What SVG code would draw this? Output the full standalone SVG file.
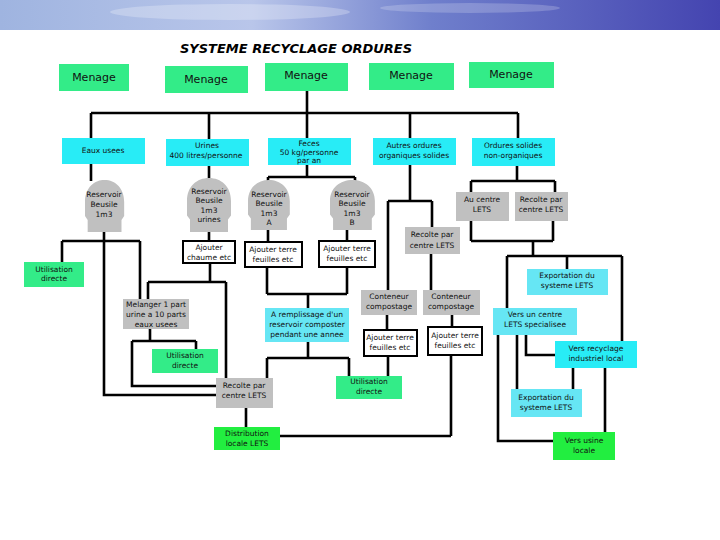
<svg xmlns="http://www.w3.org/2000/svg" xmlns:xlink="http://www.w3.org/1999/xlink" width="720" height="540" viewBox="0 0 720 540">
<defs>
<linearGradient id="hdr" x1="0" y1="0" x2="1" y2="0">
<stop offset="0" stop-color="#9fb4e0"/>
<stop offset="0.35" stop-color="#b9c6ea"/>
<stop offset="0.6" stop-color="#6f7fcc"/>
<stop offset="1" stop-color="#4444b0"/>
</linearGradient>
<path id="head" d="M3,52 L3,40 L0,36 L0,22 C0,8 10,0 22,0 C34,0 44,8 44,22 L44,36 L41,40 L41,52 Z"/>
</defs>
<style>
.g{fill:#33ec88}
.c{fill:#28ecf6}
.lc{fill:#66e6f4}
.gr{fill:#c0c0c0}
.w{fill:#ffffff;stroke:#000;stroke-width:2}
.bg{fill:#22ee40}
text{font-family:"DejaVu Sans",sans-serif;font-size:7.5px;fill:#111;text-anchor:middle}
.m{font-size:11px}
.t{font-size:13px;font-style:italic;font-weight:bold;text-anchor:start;fill:#000}
#connectors path{stroke:#000;stroke-width:2.6;fill:none}
</style>
<rect width="720" height="540" fill="#fff"/>
<rect width="720" height="30" fill="url(#hdr)"/>
<ellipse cx="230" cy="12" rx="120" ry="8" fill="#ffffff" opacity="0.25"/>
<ellipse cx="470" cy="8" rx="90" ry="5" fill="#ffffff" opacity="0.2"/>
<text class="t" x="180" y="53" textLength="232" lengthAdjust="spacingAndGlyphs">SYSTEME RECYCLAGE ORDURES</text>

<g id="connectors">
<path d="M307,91 V113 M91,113 H518 M91,113 V138 M209,113 V139 M307,113 V138 M410,113 V138 M518,113 V138"/>
<path d="M91,164 V181 M104,232 V241 M62,241 H140 M62,241 V262 M140,241 V299 M104,241 V395 H217"/>
<path d="M209,166 V178 M209,232 V241"/>
<path d="M210,263 V282 M148,282 H226 M148,282 V299 M226,282 V378"/>
<path d="M150,329 V341 M132,341 H196 M196,341 V349 M132,341 V386 H217"/>
<path d="M307,165 V177 M268,177 H355 M268,177 V181 M355,177 V181"/>
<path d="M268,230 V242 M347,230 V241"/>
<path d="M267,267 V294 M347,267 V294 M267,294 H347 M308,294 V308"/>
<path d="M308,342 V358 M267,358 H349 M267,358 V378 M349,358 V376"/>
<path d="M410,165 V201 M388,201 H432 M388,201 V290 M432,201 V227"/>
<path d="M431,254 V290 M387,315 V330 M452,315 V327"/>
<path d="M388,356 V376 M451,355 V436 M246,408 V427 M280,436 H451"/>
<path d="M517,166 V181 M471,181 H555 M471,181 V192 M555,181 V192"/>
<path d="M471,221 V241 M553,221 V241 M471,241 H553 M533,241 V256"/>
<path d="M507,256 H622 M567,256 V269 M507,256 V308 M622,256 V341"/>
<path d="M498,335 V441 H553 M517,335 V389 M526,335 V355 H555"/>
<path d="M573,368 V389 M605,368 V432"/>
</g>

<g id="menage1"><rect class="g" x="59" y="64" width="70" height="27"/><text class="m" x="94" y="81">Menage</text></g>
<g id="menage2"><rect class="g" x="165" y="66" width="83" height="27"/><text class="m" x="206" y="83">Menage</text></g>
<g id="menage3"><rect class="g" x="265" y="63" width="83" height="28"/><text class="m" x="306" y="79">Menage</text></g>
<g id="menage4"><rect class="g" x="369" y="63" width="85" height="27"/><text class="m" x="411" y="79">Menage</text></g>
<g id="menage5"><rect class="g" x="469" y="62" width="85" height="26"/><text class="m" x="511" y="78">Menage</text></g>

<g id="eaux"><rect class="c" x="62" y="138" width="83" height="26"/><text x="103" y="153">Eaux usees</text></g>
<g id="urines"><rect class="c" x="166" y="139" width="83" height="27"/><text x="207" y="148">Urines</text><text x="206" y="158">400 litres/personne</text></g>
<g id="feces"><rect class="c" x="268" y="138" width="83" height="27"/><text x="309" y="146">Feces</text><text x="309" y="155">50 kg/personne</text><text x="309" y="163">par an</text></g>
<g id="autres"><rect class="c" x="373" y="138" width="83" height="27"/><text x="414" y="148">Autres ordures</text><text x="414" y="158">organiques solides</text></g>
<g id="ordsol"><rect class="c" x="472" y="138" width="83" height="28"/><text x="513" y="148">Ordures solides</text><text x="513" y="158">non-organiques</text></g>

<g id="res1"><use xlink:href="#head" class="gr" transform="translate(85,180) scale(0.89,1)"/><text x="104" y="197">Reservoir</text><text x="104" y="207">Beusile</text><text x="104" y="217">1m3</text></g>
<g id="res2"><use xlink:href="#head" class="gr" transform="translate(187,178) scale(1,1.04)"/><text x="209" y="194">Reservoir</text><text x="209" y="203">Beusile</text><text x="209" y="213">1m3</text><text x="209" y="222">urines</text></g>
<g id="resA"><use xlink:href="#head" class="gr" transform="translate(248,180) scale(0.95,0.96)"/><text x="269" y="197">Reservoir</text><text x="269" y="206">Beusile</text><text x="269" y="216">1m3</text><text x="269" y="225">A</text></g>
<g id="resB"><use xlink:href="#head" class="gr" transform="translate(330,180) scale(1.02,0.96)"/><text x="352" y="197">Reservoir</text><text x="352" y="206">Beusile</text><text x="352" y="216">1m3</text><text x="352" y="225">B</text></g>

<g id="chaume"><rect class="w" x="183" y="241" width="52" height="22"/><text x="209" y="250">Ajouter</text><text x="209" y="260">chaume etc</text></g>
<g id="terreA"><rect class="w" x="245" y="242" width="57" height="25"/><text x="273" y="252">Ajouter terre</text><text x="273" y="262">feuilles etc</text></g>
<g id="terreB"><rect class="w" x="319" y="241" width="56" height="26"/><text x="347" y="251">Ajouter terre</text><text x="347" y="261">feuilles etc</text></g>
<g id="recolte1"><rect class="gr" x="405" y="227" width="55" height="27"/><text x="432" y="237">Recolte par</text><text x="432" y="248">centre LETS</text></g>
<g id="aucentre"><rect class="gr" x="456" y="192" width="53" height="29"/><text x="482" y="202">Au centre</text><text x="482" y="212">LETS</text></g>
<g id="recolte2"><rect class="gr" x="515" y="192" width="53" height="29"/><text x="541" y="202">Recolte par</text><text x="541" y="212">centre LETS</text></g>

<g id="util1"><rect class="g" x="24" y="262" width="60" height="25"/><text x="54" y="272">Utilisation</text><text x="54" y="281">directe</text></g>
<g id="melanger"><rect class="gr" x="123" y="299" width="66" height="30"/><text x="156" y="307">Melanger 1 part</text><text x="156" y="317">urine a 10 parts</text><text x="156" y="327">eaux usees</text></g>
<g id="util2"><rect class="g" x="152" y="349" width="66" height="24"/><text x="185" y="358">Utilisation</text><text x="185" y="368">directe</text></g>
<g id="remplissage"><rect class="lc" x="265" y="308" width="84" height="34"/><text x="307" y="317">A remplissage d'un</text><text x="307" y="327">reservoir composter</text><text x="307" y="337">pendant une annee</text></g>
<g id="conteneur1"><rect class="gr" x="361" y="290" width="56" height="25"/><text x="389" y="299">Conteneur</text><text x="389" y="309">compostage</text></g>
<g id="conteneur2"><rect class="gr" x="423" y="290" width="57" height="25"/><text x="451" y="299">Conteneur</text><text x="451" y="309">compostage</text></g>
<g id="terre1"><rect class="w" x="364" y="330" width="53" height="26"/><text x="390" y="340">Ajouter terre</text><text x="390" y="350">feuilles etc</text></g>
<g id="terre2"><rect class="w" x="428" y="327" width="54" height="28"/><text x="455" y="338">Ajouter terre</text><text x="455" y="348">feuilles etc</text></g>
<g id="util3"><rect class="g" x="336" y="376" width="66" height="23"/><text x="369" y="384">Utilisation</text><text x="369" y="394">directe</text></g>
<g id="recolte3"><rect class="gr" x="216" y="378" width="57" height="30"/><text x="244" y="388">Recolte par</text><text x="244" y="398">centre LETS</text></g>
<g id="distribution"><rect class="bg" x="214" y="427" width="66" height="23"/><text x="247" y="436">Distribution</text><text x="247" y="446">locale LETS</text></g>

<g id="export1"><rect class="lc" x="527" y="269" width="81" height="26"/><text x="567" y="278">Exportation du</text><text x="567" y="288">systeme LETS</text></g>
<g id="verscentre"><rect class="lc" x="493" y="308" width="84" height="27"/><text x="535" y="317">Vers un centre</text><text x="535" y="327">LETS specialisee</text></g>
<g id="recyclage"><rect class="c" x="555" y="341" width="82" height="27"/><text x="596" y="351">Vers recyclage</text><text x="596" y="361">industriel local</text></g>
<g id="export2"><rect class="lc" x="511" y="389" width="71" height="28"/><text x="546" y="400">Exportation du</text><text x="546" y="410">systeme LETS</text></g>
<g id="usine"><rect class="bg" x="553" y="432" width="62" height="28"/><text x="584" y="443">Vers usine</text><text x="584" y="453">locale</text></g>
</svg>
